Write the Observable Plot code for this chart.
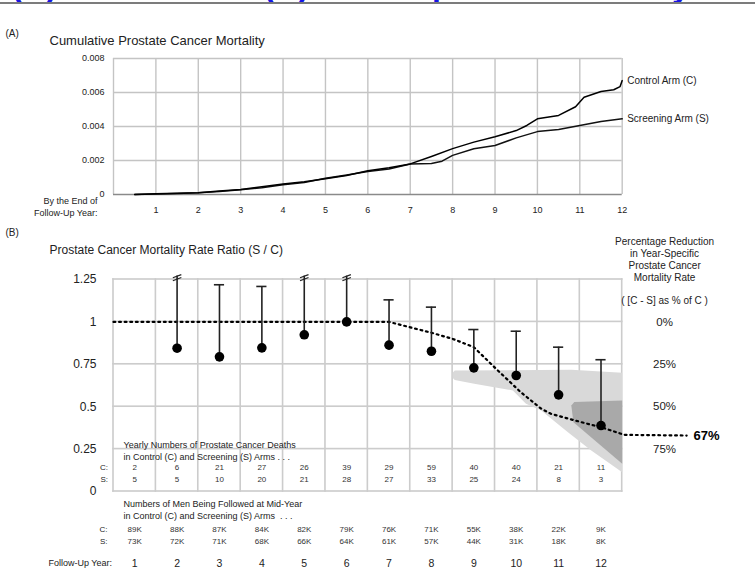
<!DOCTYPE html>
<html>
<head>
<meta charset="utf-8">
<script src="https://cdn.jsdelivr.net/npm/d3@7"></script>
<script src="https://cdn.jsdelivr.net/npm/@observablehq/plot@0.6"></script>
<style>
  html, body { margin: 0; padding: 0; background: #fff; }
  #wrap { position: relative; width: 755px; height: 587px; overflow: hidden; font-family: 'Liberation Sans', Arial, Helvetica, sans-serif; }
  #hdr { position: absolute; left: 0; top: 0; width: 755px; height: 2px; overflow: hidden; }
  #hdr span { position: absolute; top: -30px; font: bold 32px 'Liberation Sans', Arial, sans-serif; color: #1414e6; line-height: 32px; }
  #rule { position: absolute; left: 0; top: 2px; width: 755px; height: 1.5px; background: #7c7c7c; }
  #a { position: absolute; left: 0; top: 0; }
  #b { position: absolute; left: 0; top: 220px; }
</style>
</head>
<body>
<div id="wrap">
  <div id="hdr"><span style="left:12px">(A)</span><span style="left:264px">(B)</span><span style="left:432px">p</span><span style="left:672px">y</span></div>
  <div id="rule"></div>
  <div id="a"></div>
  <div id="b"></div>
</div>
<script>
// ---------- Panel A data: cumulative prostate cancer mortality ----------
const controlT = [0.5,1,1.5,2,2.5,3,3.5,4,4.5,5,5.5,6,6.5,7,7.5,8,8.5,9,9.5,9.75,10,10.5,10.9,11.1,11.5,11.8,11.95,12];
const controlV = [0,0.00004,0.00007,0.0001,0.0002,0.0003,0.00045,0.00062,0.00075,0.00092,0.00112,0.0014,0.00158,0.0018,0.00224,0.0027,0.00308,0.0034,0.00376,0.00406,0.00445,0.00465,0.00516,0.00572,0.00606,0.00616,0.00635,0.0067];
const screenT = [0.5,1,1.5,2,2.5,3,3.5,4,4.5,5,5.5,6,6.5,7,7.5,7.75,8,8.5,9,9.5,10,10.5,11,11.5,12];
const screenV = [0,0.00003,0.00006,0.0001,0.00018,0.00028,0.0004,0.00058,0.0007,0.00095,0.00115,0.00135,0.0015,0.0018,0.00182,0.00196,0.0023,0.00269,0.00288,0.00333,0.0037,0.00382,0.00406,0.0043,0.00445];
const yTicksA = [0,0.002,0.004,0.006,0.008];
const yearTicks = [1,2,3,4,5,6,7,8,9,10,11,12];

// ---------- Panel B data: rate ratio (S / C) by follow-up year ----------
const years    = [1,2,3,4,5,6,7,8,9,10,11,12];
const ratio    = [null,0.845,0.794,0.847,0.924,1.0,0.863,0.827,0.729,0.684,0.570,0.389];
const upperCI  = [null,1.27,1.219,1.209,1.27,1.27,1.130,1.087,0.955,0.945,0.851,0.777];
const brokenCI = [false,true,false,false,true,true,false,false,false,false,false,false];
const deathsC  = [2,6,21,27,26,39,29,59,40,40,21,11];
const deathsS  = [5,5,10,20,21,28,27,33,25,24,8,3];
const menC     = ["89K","88K","87K","84K","82K","79K","76K","71K","55K","38K","22K","9K"];
const menS     = ["73K","72K","71K","68K","66K","64K","61K","57K","44K","31K","18K","8K"];
const yTicksB  = [0,0.25,0.5,0.75,1,1.25];
const xGridB   = [0,1,2,3,4,5,6,7,8,9,10,11,12];
const pctTicks = [1,0.75,0.5,0.25];
const trendT   = [0,6.5,7,7.5,8,8.5,8.75,9.06,9.61,10.09,10.32,11.03,11.5,12.05,13.52];
const trendV   = [1,1,0.968,0.936,0.9,0.851,0.79,0.715,0.585,0.488,0.458,0.409,0.379,0.334,0.33];
const lightT   = [8.0,8.05,10.8,12,12,11.27,10.72,10.09,9.73,9.42,8.51,8.05,8.0];
const lightV   = [0.70,0.713,0.718,0.70,0.114,0.242,0.350,0.478,0.517,0.596,0.635,0.658,0.67];
const darkT    = [10.8,10.87,12,12,10.85];
const darkV    = [0.507,0.527,0.537,0.163,0.409];
const finalReduction = 67;

const font = "'Liberation Sans', Arial, Helvetica, sans-serif";
const ink = "#222";

// ---------- Panel A ----------
const cumC = controlT.map((t, i) => ({t, v: controlV[i]}));
const cumS = screenT.map((t, i) => ({t, v: screenV[i]}));
const gridA = "#c4c4c4";

const plotA = Plot.plot({
  width: 755, height: 220,
  marginLeft: 113, marginRight: 133.3, marginTop: 58, marginBottom: 26,
  style: {fontFamily: font, background: "transparent", overflow: "visible", color: ink},
  x: {domain: [0, 12]},
  y: {domain: [0, 0.008]},
  marks: [
    Plot.gridX([0, ...yearTicks], {stroke: gridA, strokeOpacity: 1, strokeWidth: 1.4}),
    Plot.gridY(yTicksA.slice(1), {stroke: gridA, strokeOpacity: 1, strokeWidth: 1.4}),
    Plot.gridY([0], {stroke: "#8a8a8a", strokeOpacity: 1, strokeWidth: 1.6}),
    Plot.axisY(yTicksA, {tickSize: 0, tickPadding: 9, fontSize: 9, label: null,
      tickFormat: d => d === 0 ? "0" : d.toFixed(3)}),
    Plot.axisX(yearTicks, {tickSize: 0, tickPadding: 12, fontSize: 9, label: null}),
    Plot.line(cumS, {x: "t", y: "v", stroke: "#111", strokeWidth: 1.5}),
    Plot.line(cumC, {x: "t", y: "v", stroke: "#000", strokeWidth: 1.5}),
    Plot.text([cumC[cumC.length - 1]], {x: "t", y: "v", text: () => "Control Arm (C)", dx: 5, textAnchor: "start", fontSize: 10}),
    Plot.text([cumS[cumS.length - 1]], {x: "t", y: "v", text: () => "Screening Arm (S)", dx: 5, textAnchor: "start", fontSize: 10}),
    Plot.text(["(A)"], {frameAnchor: "top-left", dx: -108, dy: -25, textAnchor: "start", lineAnchor: "middle", fontSize: 10}),
    Plot.text(["Cumulative Prostate Cancer Mortality"], {frameAnchor: "top-left", dx: -64, dy: -18, textAnchor: "start", lineAnchor: "middle", fontSize: 13}),
    Plot.text(["By the End of\nFollow-Up Year:"], {frameAnchor: "bottom-left", dx: -16, dy: 12, textAnchor: "end", lineAnchor: "middle", lineHeight: 1.3, fontSize: 9})
  ]
});
document.getElementById("a").appendChild(plotA);

// ---------- Panel B ----------
const bars = years.map((y, i) => ({year: y, t: y - 0.5, v: ratio[i], hi: upperCI[i], broken: brokenCI[i]})).filter(d => d.v != null);
const table = years.map((y, i) => ({t: y - 0.5, year: y, dc: deathsC[i], ds: deathsS[i], mc: menC[i], ms: menS[i]}));
const trend = trendT.map((t, i) => ({t, v: trendV[i]}));
const light = lightT.map((t, i) => ({t, v: lightV[i]}));
const dark = darkT.map((t, i) => ({t, v: darkV[i]}));
const gridB = "#cccccc";
const mid = {lineAnchor: "middle"};
const yLo = yTicksB[0], yHi = yTicksB[yTicksB.length - 1];
const xLo = xGridB[0], xHi = xGridB[xGridB.length - 1];
const halfX = 0.019, halfY = 0.0048; // half a grid-line thickness, in data units

const plotB = Plot.plot({
  width: 755, height: 367,
  marginLeft: 113, marginRight: 133.3, marginTop: 59, marginBottom: 96,
  style: {fontFamily: font, background: "transparent", overflow: "visible", color: ink},
  x: {domain: [0, 12]},
  y: {domain: [0, 1.25]},
  marks: [
    // grid drawn as thin filled bands
    Plot.rect(xGridB, {x1: d => d - halfX, x2: d => d + halfX, y1: () => yLo - halfY, y2: () => yHi + halfY, fill: gridB, stroke: "none"}),
    Plot.rect(yTicksB, {y1: d => d - halfY, y2: d => d + halfY, x1: () => xLo - halfX, x2: () => xHi + halfX, fill: gridB, stroke: "none"}),
    Plot.line(light, {x: "t", y: "v", fill: "#d9d9d9", stroke: "none"}),
    Plot.line(dark, {x: "t", y: "v", fill: "#a9a9a9", stroke: "none"}),
    Plot.axisY(yTicksB, {tickSize: 0, tickPadding: 17, fontSize: 12, label: null, tickFormat: d => String(d)}),
    Plot.axisX([], {label: null, tickSize: 0}),
    Plot.line(trend, {x: "t", y: "v", stroke: "#000", strokeWidth: 2.2, strokeDasharray: "1.8,3.8"}),
    Plot.ruleX(bars, {x: "t", y1: "v", y2: "hi", stroke: ink, strokeWidth: 1.6}),
    Plot.ruleY(bars.filter(d => !d.broken), {y: "hi", x1: d => d.t - 0.12, x2: d => d.t + 0.12, stroke: ink, strokeWidth: 1.6}),
    Plot.link(bars.filter(d => d.broken), {x1: d => d.t - 0.1, x2: d => d.t + 0.1, y1: () => 1.243, y2: () => 1.262, stroke: ink, strokeWidth: 1.2}),
    Plot.link(bars.filter(d => d.broken), {x1: d => d.t - 0.1, x2: d => d.t + 0.1, y1: () => 1.26, y2: () => 1.279, stroke: ink, strokeWidth: 1.2}),
    Plot.dot(bars, {x: "t", y: "v", r: 4.8, fill: "#000", stroke: "none"}),
    // right-hand reduction scale
    Plot.text(["Percentage Reduction\nin Year-Specific\nProstate Cancer\nMortality Rate"], {x: () => 13, y: () => 1.368, textAnchor: "middle", lineAnchor: "middle", lineHeight: 1.2, fontSize: 10}),
    Plot.text(["( [C - S] as % of C )"], {x: () => 13, y: () => 1.126, textAnchor: "middle", fontSize: 10}),
    Plot.text(pctTicks, {x: () => 13, y: d => d, text: d => `${Math.round((1 - d) * 100)}%`, textAnchor: "middle", fontSize: 11.5}),
    Plot.text([finalReduction], {x: () => 13.68, y: d => 1 - d / 100 , text: d => `${d}%`, textAnchor: "start", fontSize: 13, fontWeight: "bold", fill: "#000"}),
    // titles
    Plot.text(["(B)"], {frameAnchor: "top-left", dx: -108, dy: -47, textAnchor: "start", fontSize: 10, ...mid}),
    Plot.text(["Prostate Cancer Mortality Rate Ratio (S / C)"], {frameAnchor: "top-left", dx: -64, dy: -29, textAnchor: "start", fontSize: 12, ...mid}),
    // yearly deaths table (inside frame)
    Plot.text(["Yearly Numbers of Prostate Cancer Deaths\nin Control (C) and Screening (S) Arms . . ."], {frameAnchor: "bottom-left", dx: 10, dy: -41.5, textAnchor: "start", lineHeight: 1.3, fontSize: 9, ...mid}),
    Plot.text(["C:"], {frameAnchor: "bottom-left", dx: -5.5, dy: -24.3, textAnchor: "end", fontSize: 8, ...mid}),
    Plot.text(["S:"], {frameAnchor: "bottom-left", dx: -5.5, dy: -11.7, textAnchor: "end", fontSize: 8, ...mid}),
    Plot.text(table, {x: "t", frameAnchor: "bottom", dy: -24.3, text: "dc", fontSize: 8, fill: "#333", ...mid}),
    Plot.text(table, {x: "t", frameAnchor: "bottom", dy: -11.7, text: "ds", fontSize: 8, fill: "#333", ...mid}),
    // men followed table (below frame)
    Plot.text(["Numbers of Men Being Followed at Mid-Year\nin Control (C) and Screening (S) Arms  . . ."], {frameAnchor: "bottom-left", dx: 10, dy: 17.5, textAnchor: "start", lineHeight: 1.3, fontSize: 9, ...mid}),
    Plot.text(["C:"], {frameAnchor: "bottom-left", dx: -6, dy: 38, textAnchor: "end", fontSize: 8, ...mid}),
    Plot.text(["S:"], {frameAnchor: "bottom-left", dx: -6, dy: 50, textAnchor: "end", fontSize: 8, ...mid}),
    Plot.text(table, {x: "t", frameAnchor: "bottom", dy: 38, text: "mc", fontSize: 8, fill: "#333", ...mid}),
    Plot.text(table, {x: "t", frameAnchor: "bottom", dy: 50, text: "ms", fontSize: 8, fill: "#333", ...mid}),
    Plot.text(["Follow-Up Year:"], {frameAnchor: "bottom-left", dx: -1.5, dy: 72, textAnchor: "end", fontSize: 9, ...mid}),
    Plot.text(table, {x: "t", frameAnchor: "bottom", dy: 72, text: "year", fontSize: 10.5, ...mid})
  ]
});
document.getElementById("b").appendChild(plotB);
</script>
</body>
</html>
